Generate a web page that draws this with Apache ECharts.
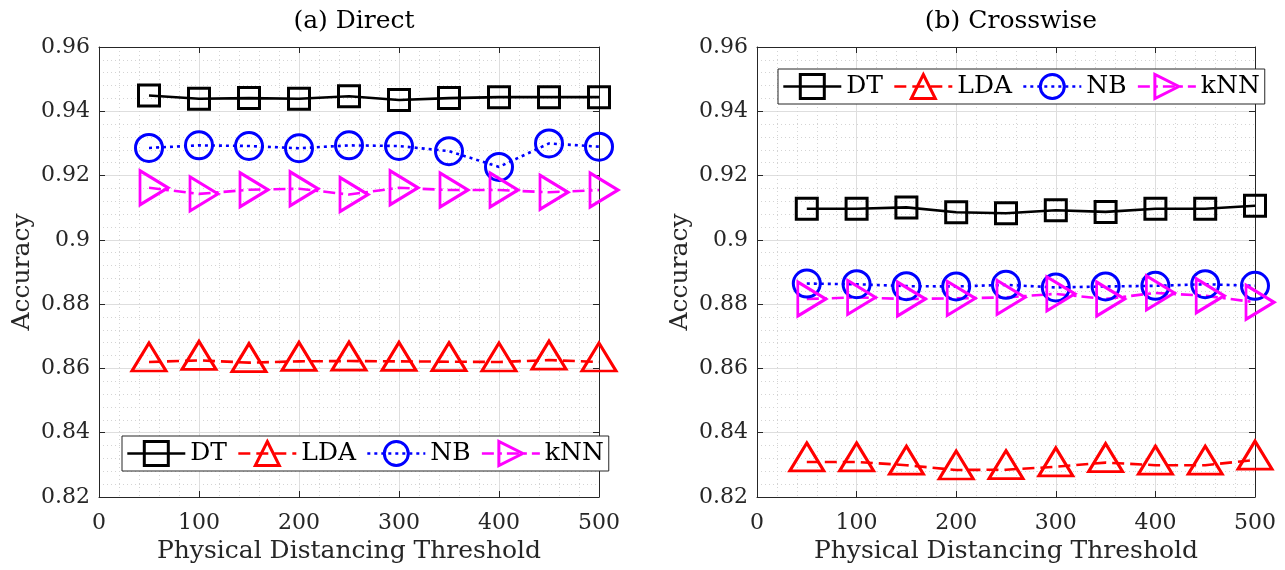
<!DOCTYPE html>
<html>
<head>
<meta charset="utf-8">
<script src="https://cdn.jsdelivr.net/npm/echarts@6/dist/echarts.min.js"></script>
<style>
  html, body { margin: 0; padding: 0; background: #fff; }
  #chart { width: 1285px; height: 570px; }
</style>
</head>
<body>
<div id="chart"></div>
<script>
// thresholds on the x axis
const thresholds = [50, 100, 150, 200, 250, 300, 350, 400, 450, 500];
const methods = ['DT', 'LDA', 'NB', 'kNN'];

// (a) Direct
const directDT = [0.9449, 0.9439, 0.9441, 0.9439, 0.9447, 0.9435, 0.9441, 0.9444, 0.9444, 0.9444];
const directLDA = [0.8620, 0.8625, 0.8618, 0.8622, 0.8623, 0.8622, 0.8621, 0.8620, 0.8626, 0.8620];
const directNB = [0.9286, 0.9294, 0.9292, 0.9285, 0.9294, 0.9292, 0.9276, 0.9227, 0.9300, 0.9290];
const directKNN = [0.9162, 0.9143, 0.9156, 0.9159, 0.9141, 0.9162, 0.9155, 0.9155, 0.9148, 0.9155];

// (b) Crosswise
const crossDT = [0.9097, 0.9097, 0.9101, 0.9086, 0.9083, 0.9092, 0.9087, 0.9097, 0.9097, 0.9106];
const crossLDA = [0.8309, 0.8309, 0.8299, 0.8284, 0.8285, 0.8294, 0.8307, 0.8299, 0.8299, 0.8315];
const crossNB = [0.8864, 0.8862, 0.8856, 0.8855, 0.8860, 0.8852, 0.8855, 0.8857, 0.8862, 0.8857];
const crossKNN = [0.8816, 0.8821, 0.8816, 0.8818, 0.8821, 0.8832, 0.8816, 0.8835, 0.8826, 0.8806];

const yMin = 0.82, yMax = 0.96, yStep = 0.02;
const xMin = 0, xMax = 500, xStep = 100;

const FONT = '"DejaVu Serif", "Liberation Serif", serif';
const AXIS_COLOR = '#262626';

const chart = echarts.init(document.getElementById('chart'));

const grids = [
	{ left: 99, top: 47, width: 500, height: 450 },
	{ left: 757, top: 47, width: 498, height: 450 },
];

const pair = (xs, ys) => xs.map((x, i) => [x, ys[i]]);

// one entry per method: marker + line look
const looks = {
	DT: { color: '#000000', symbol: 'rect', size: 21, type: 'solid', offset: [0, 0], rotate: 0 },
	LDA: { color: '#ff0000', symbol: 'triangle', size: [34, 28], type: [12, 6], offset: [0, -5], rotate: 0 },
	NB: { color: '#0000ff', symbol: 'circle', size: 27, type: [3, 4], offset: [0, 0], rotate: 0 },
	kNN: { color: '#ff00ff', symbol: 'triangle', size: [34, 28], type: [12, 5, 3, 5], offset: [5, 0], rotate: -90 },
};

function makeSeries(name, data, gi) {
	const lk = looks[name];
	return {
		name: name,
		type: 'line',
		xAxisIndex: gi * 2,
		yAxisIndex: gi * 2,
		data: data,
		symbol: lk.symbol,
		symbolSize: lk.size,
		symbolOffset: lk.offset,
		symbolRotate: lk.rotate,
		showAllSymbol: true,
		animation: false,
		lineStyle: { color: lk.color, width: 2.6, type: lk.type },
		itemStyle: { color: 'rgba(0,0,0,0)', borderColor: lk.color, borderWidth: 3 },
		emphasis: { disabled: true },
		z: 3,
	};
}

const xAxes = [];
const yAxes = [];
grids.forEach((g, gi) => {
	xAxes.push({
		gridIndex: gi,
		type: 'value',
		min: xMin,
		max: xMax,
		interval: xStep,
		name: 'Physical Distancing Threshold',
		nameLocation: 'middle',
		nameGap: 40,
		nameTextStyle: { fontFamily: FONT, fontSize: 25, color: AXIS_COLOR },
		axisLine: { onZero: false, lineStyle: { color: AXIS_COLOR, width: 1 } },
		axisTick: { inside: true, length: 6, lineStyle: { color: AXIS_COLOR } },
		axisLabel: { fontFamily: FONT, fontSize: 22, color: AXIS_COLOR, margin: 15 },
		splitLine: { show: true, lineStyle: { color: '#dedede', width: 1 } },
		minorTick: { show: false, splitNumber: 5 },
		minorSplitLine: { show: true, lineStyle: { color: '#d4d4d4', width: 1, type: [1, 3] } },
	});
	xAxes.push({
		gridIndex: gi,
		type: 'value',
		position: 'top',
		min: xMin,
		max: xMax,
		interval: xStep,
		axisLine: { onZero: false, lineStyle: { color: AXIS_COLOR, width: 1 } },
		axisTick: { inside: true, length: 6, lineStyle: { color: AXIS_COLOR } },
		axisLabel: { show: false },
		splitLine: { show: false },
	});
	yAxes.push({
		gridIndex: gi,
		type: 'value',
		min: yMin,
		max: yMax,
		interval: yStep,
		name: 'Accuracy',
		nameLocation: 'middle',
		nameGap: 64,
		nameRotate: 90,
		nameTextStyle: { fontFamily: FONT, fontSize: 25, color: AXIS_COLOR },
		axisLine: { onZero: false, lineStyle: { color: AXIS_COLOR, width: 1 } },
		axisTick: { inside: true, length: 6, lineStyle: { color: AXIS_COLOR } },
		axisLabel: {
			fontFamily: FONT, fontSize: 22, color: AXIS_COLOR, margin: 9,
			formatter: (v) => String(parseFloat(v.toFixed(2))),
		},
		splitLine: { show: true, lineStyle: { color: '#dedede', width: 1 } },
		minorTick: { show: false, splitNumber: 5 },
		minorSplitLine: { show: true, lineStyle: { color: '#d4d4d4', width: 1, type: [1, 3] } },
	});
	yAxes.push({
		gridIndex: gi,
		type: 'value',
		position: 'right',
		min: yMin,
		max: yMax,
		interval: yStep,
		axisLine: { onZero: false, lineStyle: { color: AXIS_COLOR, width: 1 } },
		axisTick: { inside: true, length: 6, lineStyle: { color: AXIS_COLOR } },
		axisLabel: { show: false },
		splitLine: { show: false },
	});
});

const legendBase = {
	orient: 'horizontal',
	data: methods,
	itemWidth: 58,
	itemHeight: 30,
	itemGap: 10,
	padding: [4, 5, 4, 4],
	borderColor: AXIS_COLOR,
	borderWidth: 1,
	backgroundColor: '#ffffff',
	itemStyle: { borderWidth: 3 },
	lineStyle: { width: 2.6 },
	textStyle: { fontFamily: FONT, fontSize: 25, color: '#000' },
	selectedMode: false,
	z: 10,
};

chart.setOption({
	animation: false,
	title: [
		{ text: '(a) Direct', left: 349, top: 4, textAlign: 'center',
			textStyle: { fontFamily: FONT, fontSize: 25, fontWeight: 'normal', color: '#000' } },
		{ text: '(b) Crosswise', left: 1006, top: 4, textAlign: 'center',
			textStyle: { fontFamily: FONT, fontSize: 25, fontWeight: 'normal', color: '#000' } },
	],
	legend: [
		Object.assign({}, legendBase, { left: 122, top: 436 }),
		Object.assign({}, legendBase, { left: 778, top: 69 }),
	],
	grid: grids,
	xAxis: xAxes,
	yAxis: yAxes,
	series: [
		makeSeries('DT', pair(thresholds, directDT), 0),
		makeSeries('LDA', pair(thresholds, directLDA), 0),
		makeSeries('NB', pair(thresholds, directNB), 0),
		makeSeries('kNN', pair(thresholds, directKNN), 0),
		makeSeries('DT', pair(thresholds, crossDT), 1),
		makeSeries('LDA', pair(thresholds, crossLDA), 1),
		makeSeries('NB', pair(thresholds, crossNB), 1),
		makeSeries('kNN', pair(thresholds, crossKNN), 1),
	],
});
</script>
</body>
</html>
